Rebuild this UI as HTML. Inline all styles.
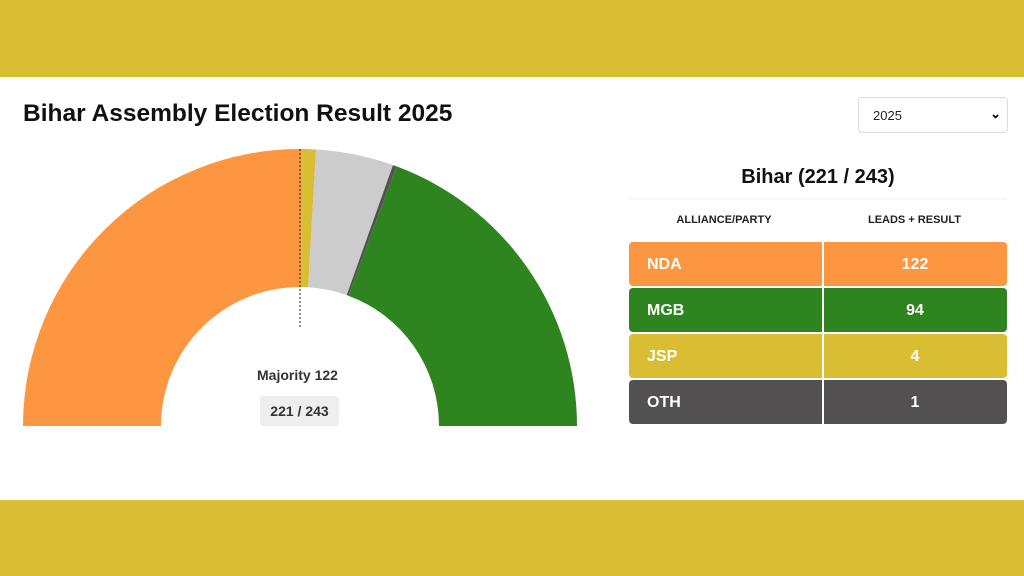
<!DOCTYPE html>
<html><head><style>
body{margin:0;width:1024px;height:576px;overflow:hidden;font-family:"Liberation Sans",sans-serif;background:#fff;position:relative}
.band{position:absolute;left:0;width:1024px;background:#D9BE33}
.t{position:absolute;white-space:nowrap}
.row{position:absolute;left:629px;width:378px;height:44px;border-radius:4px;color:#fff;font-weight:bold;font-size:16px}
.row .a{position:absolute;left:18px;top:14px}
.row .b{position:absolute;left:194px;width:184px;text-align:center;top:14px}
.row .s{position:absolute;left:193px;top:0;width:2px;height:44px;background:#fff}
</style></head><body>
<div class="band" style="top:0;height:77px"></div>
<div class="band" style="top:500px;height:76px"></div>
<div class="t" style="left:23px;top:100px;font-size:24.5px;font-weight:bold;color:#111">Bihar Assembly Election Result 2025</div>
<div style="position:absolute;left:858px;top:97px;width:150px;height:36px;border:1px solid #ddd;border-radius:4px;box-sizing:border-box"><span class="t" style="left:14px;top:10px;font-size:13px;color:#222">2025</span><span class="t" style="right:6px;top:8px;font-size:13px;font-weight:bold">&#8964;</span></div>
<svg style="position:absolute;left:0;top:0" width="1024" height="576">
<path d="M23,426 A277 277 0 0 1 301.8,149 L300.9,287 A139 139 0 0 0 161,426 Z" fill="#FC9640"/>
<path d="M301.8,149 A277 277 0 0 1 316.1,149.5 L308.1,287.2 A139 139 0 0 0 300.9,287 Z" fill="#D9BE33"/>
<path d="M316.1,149.5 A277 277 0 0 1 393,165.1 L346.7,295.1 A139 139 0 0 0 308.1,287.2 Z" fill="#CCCCCC"/>
<path d="M393,165.1 A277 277 0 0 1 396.4,166.3 L348.4,295.7 A139 139 0 0 0 346.7,295.1 Z" fill="#525050"/>
<path d="M396.4,166.3 A277 277 0 0 1 577,426 L439,426 A139 139 0 0 0 348.4,295.7 Z" fill="#2E841F"/>
<line x1="300" y1="149" x2="300" y2="329" stroke="#222" stroke-width="1" stroke-dasharray="2,2"/>
<line x1="629" y1="199" x2="1007" y2="199" stroke="#eee"/>
</svg>
<div class="t" style="left:257px;top:367px;font-size:14px;font-weight:bold;color:#333">Majority 122</div>
<div class="t" style="left:260px;top:396px;width:79px;height:30px;background:#eee;border-radius:3px;font-size:14px;font-weight:bold;color:#333;text-align:center;line-height:30px">221 / 243</div>
<div class="t" style="left:629px;width:378px;text-align:center;top:166px;font-size:20px;font-weight:bold;color:#111">Bihar (221 / 243)</div>
<div class="t" style="left:629px;width:190px;text-align:center;top:214px;font-size:11px;font-weight:bold;color:#222">ALLIANCE/PARTY</div>
<div class="t" style="left:822px;width:185px;text-align:center;top:214px;font-size:11px;font-weight:bold;color:#222">LEADS + RESULT</div>
<div class="row" style="top:242px;background:#FC9640"><span class="a">NDA</span><span class="s"></span><span class="b">122</span></div>
<div class="row" style="top:288px;background:#2E841F"><span class="a">MGB</span><span class="s"></span><span class="b">94</span></div>
<div class="row" style="top:334px;background:#D9BE33"><span class="a">JSP</span><span class="s"></span><span class="b">4</span></div>
<div class="row" style="top:380px;background:#525050"><span class="a">OTH</span><span class="s"></span><span class="b">1</span></div>
</body></html>
